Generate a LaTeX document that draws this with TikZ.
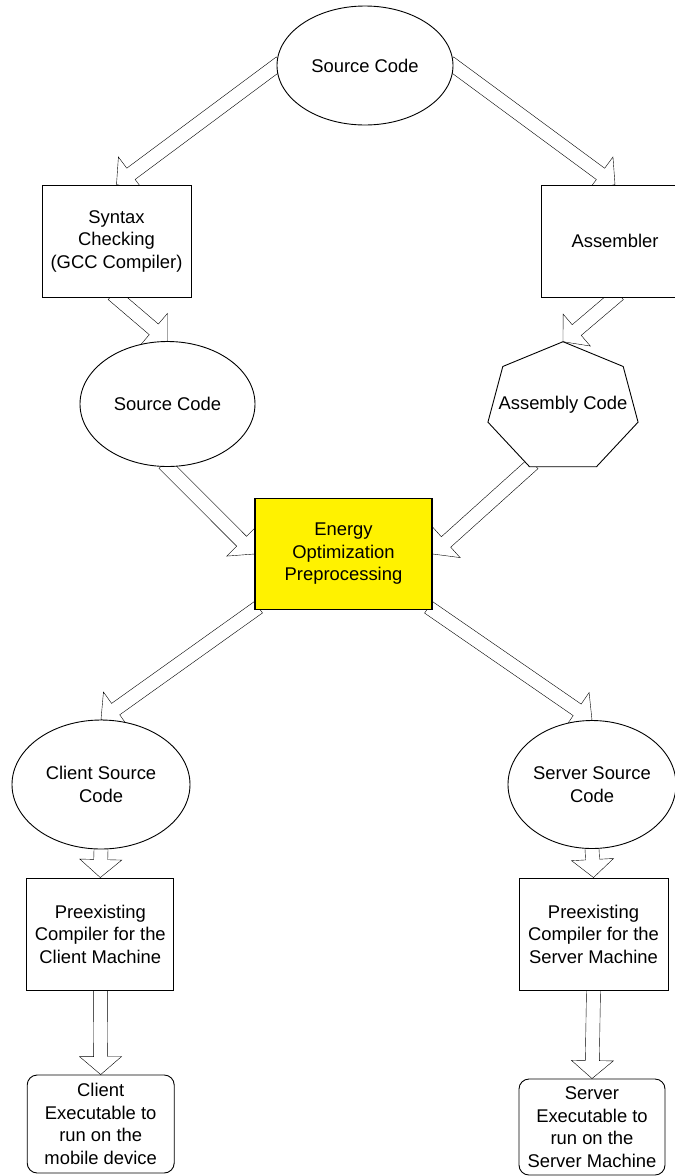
\documentclass[tikz,border=0pt]{standalone}
\usepackage{fontspec}
\setmainfont{Liberation Sans}
\usetikzlibrary{calc,shapes.geometric,backgrounds}
\def\blockarrow(#1)(#2){%
	\path ($(#1)!-5pt!(#2)$) coordinate (ht) ($(#2)!18pt!(#1)$) coordinate (hb);
	\draw[fill=white, line join=miter] ($(ht)!7pt!90:(#2)$) -- ($(hb)!7pt!90:(#2)$) -- ($(hb)!21pt!90:(#2)$) -- (#2) -- ($(hb)!21pt!-90:(#2)$) -- ($(hb)!7pt!-90:(#2)$) -- ($(ht)!7pt!-90:(#2)$) -- cycle;}

\begin{document}
\begin{tikzpicture}[x=1pt, y=-1pt, line width=0.9pt,
		every node/.style={font=\fontsize{18.4}{22.5}\selectfont, align=center, inner sep=0pt},
		box/.style={draw, fill=white, rectangle},
		oval/.style={draw, fill=white, ellipse},
		roundbox/.style={draw, fill=white, rectangle, rounded corners=10pt}]
		%%%%% START %%%%%
		\useasboundingbox (0,0) rectangle (675,1176);
		\clip (0,0) rectangle (675,1176);
		
		\node[oval, minimum width=176, minimum height=119] (top) at (365, 65.5) {Source Code};
		\node[box, minimum width=149, minimum height=112] (syntax) at (116.5, 241) {Syntax\\Checking\\(GCC Compiler)};
		\node[box, minimum width=148, minimum height=112] (asmb) at (615, 241) {Assembler};
		
		\node[oval, minimum width=175, minimum height=125] (src) at (167.5, 404) {Source Code};
		\coordinate (hept) at (563, 407.5);
		\draw[fill=white] ($(hept)+(-90:77 and 65.8)$) \foreach \k in {1,...,6} { -- ($(hept)+({-90+\k*360/7}:77 and 65.8)$) } -- cycle;
		\coordinate (hepttop) at ($(hept)+(-90:77 and 65.8)$);
		\coordinate (heptll) at ($(hept)+({-90+4*360/7}:77 and 65.8)$);
		\node (asmcode) at (563, 405) {Assembly Code};
		
		\node[box, fill=yellow, line width=1.3pt, minimum width=177, minimum height=111] (energy) at (343.5, 554) {Energy\\Optimization\\Preprocessing};
		
		\node[oval, minimum width=178, minimum height=129] (client) at (101, 784.5) {Client Source\\Code};
		\node[oval, minimum width=168, minimum height=128] (server) at (592, 784.5) {Server Source\\Code};
		\node[box, minimum width=147, minimum height=112] (cpre) at (100.3, 934) {Preexisting\\Compiler for the\\Client Machine};
		\node[box, minimum width=149, minimum height=112] (spre) at (593.5, 934) {Preexisting\\Compiler for the\\Server Machine};
		\node[roundbox, minimum width=147, minimum height=98] (cexe) at (100.7, 1124) {Client\\Executable to\\run on the\\mobile device};
		\node[roundbox, minimum width=146, minimum height=96] (sexe) at (592, 1127) {Server\\Executable to\\run on the\\Server Machine};
		
		% block arrows behind the shapes
		\begin{scope}[on background layer]
			\blockarrow(top.west)(syntax.north)
			\blockarrow(top.east)(asmb.north)
			\blockarrow(syntax.south)(src.north)
			\blockarrow(asmb.south)(hepttop)
			\blockarrow(src.south)(energy.west)
			\blockarrow(heptll)(energy.east)
			\blockarrow(energy.south west)(client.north)
			\blockarrow(energy.south east)(server.north)
			\blockarrow(client.south)(cpre.north)
			\blockarrow(server.south)(spre.north)
			\blockarrow(cpre.south)(cexe.north)
			\blockarrow(spre.south)(sexe.north)
		\end{scope}
		%%%%% END %%%%%
\end{tikzpicture}
\end{document}
